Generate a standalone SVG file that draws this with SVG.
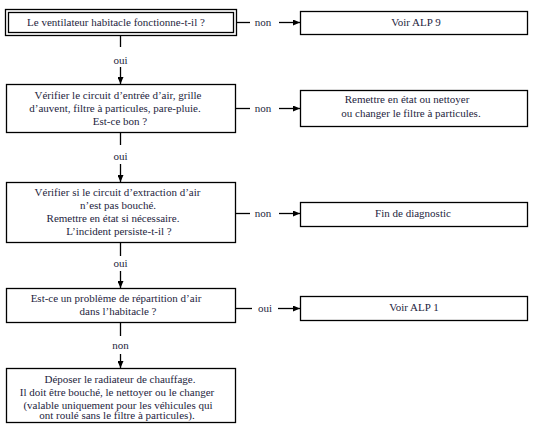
<svg xmlns="http://www.w3.org/2000/svg" width="538" height="441" viewBox="0 0 538 441">
<defs>
<marker id="ah" markerWidth="7" markerHeight="6" refX="7" refY="3" orient="auto" markerUnits="userSpaceOnUse">
<path d="M0,0 L7,3 L0,6 Z" fill="#000"/>
</marker>
<style>
.box{fill:#fff;stroke:#000;stroke-width:1.3}
.t{font-family:"Liberation Serif","Times New Roman",serif;font-size:11px;fill:#1e1e40;text-anchor:middle}
.c{fill:none;stroke:#000;stroke-width:1.3}
.a{fill:none;stroke:#000;stroke-width:1.3;marker-end:url(#ah)}
</style>
</defs>
<rect width="538" height="441" fill="#fff"/>

<g id="q1">
<rect class="box" x="5.5" y="9.5" width="231" height="26"/>
<rect class="box" x="8.5" y="12.5" width="225" height="20"/>
<text class="t" x="116" y="26">Le ventilateur habitacle fonctionne-t-il ?</text>
</g>
<g id="r1">
<rect class="box" x="300.5" y="11.5" width="227" height="23"/>
<text class="t" x="416" y="26">Voir ALP 9</text>
</g>
<g id="q2">
<rect class="box" x="6.5" y="84.5" width="229" height="48"/>
<text class="t" x="118" y="99">Vérifier le circuit d’entrée d’air, grille</text>
<text class="t" x="115" y="112">d’auvent, filtre à particules, pare-pluie.</text>
<text class="t" x="120" y="125">Est-ce bon ?</text>
</g>
<g id="r2">
<rect class="box" x="300.5" y="90.5" width="227" height="36"/>
<text class="t" x="407" y="103">Remettre en état ou nettoyer</text>
<text class="t" x="411" y="117">ou changer le filtre à particules.</text>
</g>
<g id="q3">
<rect class="box" x="6.5" y="182.5" width="229" height="60"/>
<text class="t" x="117.5" y="196">Vérifier si le circuit d’extraction d’air</text>
<text class="t" x="118" y="209">n’est pas bouché.</text>
<text class="t" x="113" y="222">Remettre en état si nécessaire.</text>
<text class="t" x="119" y="235">L’incident persiste-t-il ?</text>
</g>
<g id="r3">
<rect class="box" x="300.5" y="202.5" width="227" height="24"/>
<text class="t" x="413" y="217">Fin de diagnostic</text>
</g>
<g id="q4">
<rect class="box" x="6.5" y="288.5" width="229" height="34"/>
<text class="t" x="116" y="302">Est-ce un problème de répartition d’air</text>
<text class="t" x="118" y="315">dans l’habitacle ?</text>
</g>
<g id="r4">
<rect class="box" x="300.5" y="296.5" width="227" height="24"/>
<text class="t" x="414" y="311">Voir ALP 1</text>
</g>
<g id="q5">
<rect class="box" x="6.5" y="368.5" width="229" height="54"/>
<text class="t" x="120" y="383">Déposer le radiateur de chauffage.</text>
<text class="t" x="117" y="396">Il doit être bouché, le nettoyer ou le changer</text>
<text class="t" x="118" y="408.5">(valable uniquement pour les véhicules qui</text>
<text class="t" x="117" y="419">ont roulé sans le filtre à particules).</text>
</g>

<g id="connectors">
<line class="c" x1="236" y1="22.5" x2="250" y2="22.5"/>
<text class="t" x="263" y="26">non</text>
<line class="a" x1="279" y1="22.5" x2="300" y2="22.5"/>

<line class="c" x1="236" y1="108.5" x2="250" y2="108.5"/>
<text class="t" x="263" y="112">non</text>
<line class="a" x1="279" y1="108.5" x2="300" y2="108.5"/>

<line class="c" x1="236" y1="213.5" x2="250" y2="213.5"/>
<text class="t" x="263" y="217">non</text>
<line class="a" x1="279" y1="213.5" x2="300" y2="213.5"/>

<line class="c" x1="236" y1="308.5" x2="252" y2="308.5"/>
<text class="t" x="265" y="312">oui</text>
<line class="a" x1="278" y1="308.5" x2="300" y2="308.5"/>

<line class="c" x1="120.5" y1="36" x2="120.5" y2="47"/>
<text class="t" x="120.5" y="64">oui</text>
<line class="a" x1="120.5" y1="67" x2="120.5" y2="84"/>

<line class="c" x1="120.5" y1="133" x2="120.5" y2="145"/>
<text class="t" x="120.5" y="160">oui</text>
<line class="a" x1="120.5" y1="164" x2="120.5" y2="182"/>

<line class="c" x1="120.5" y1="243" x2="120.5" y2="256"/>
<text class="t" x="120.5" y="267">oui</text>
<line class="a" x1="120.5" y1="271" x2="120.5" y2="288"/>

<line class="c" x1="120.5" y1="323" x2="120.5" y2="336"/>
<text class="t" x="120.5" y="349">non</text>
<line class="a" x1="120.5" y1="354" x2="120.5" y2="368"/>
</g>
</svg>
